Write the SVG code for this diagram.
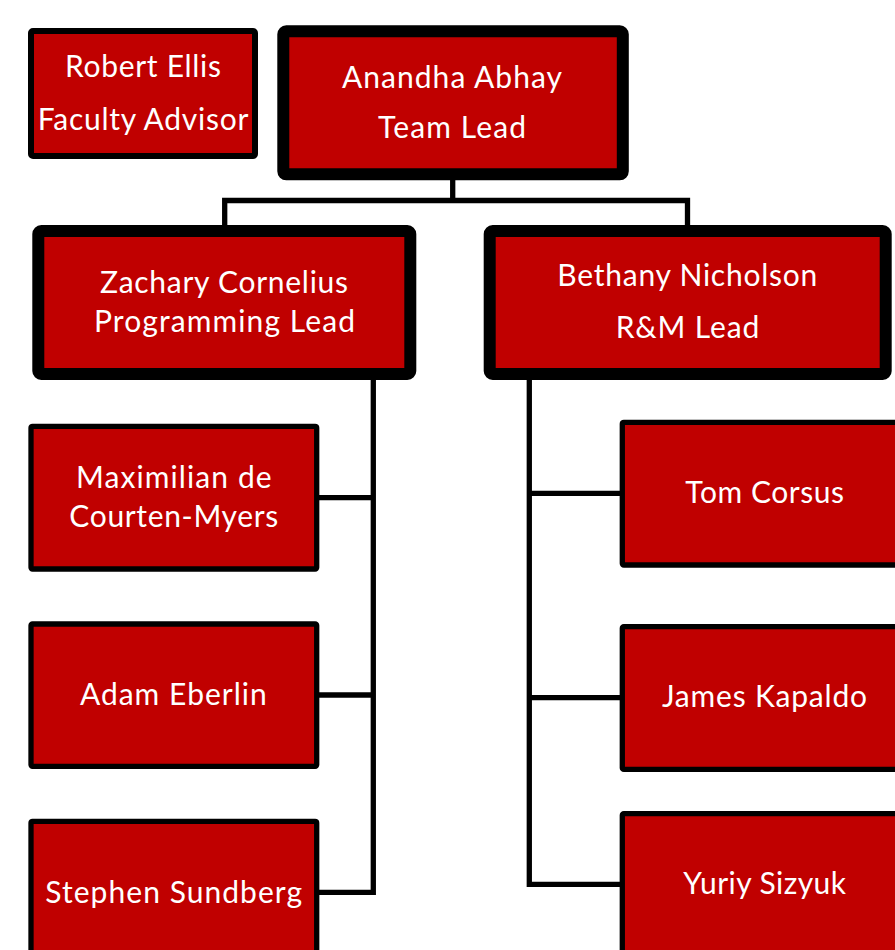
<svg xmlns="http://www.w3.org/2000/svg" width="895" height="950" viewBox="0 0 895 950">
<style>
.box{fill:#C00000;stroke:#000;stroke-linejoin:round}
.thin{stroke-width:5.3}
.mid{stroke-width:6}
.thick{stroke-width:12}
text{font-family:Lato,"Open Sans","DejaVu Sans",sans-serif;font-size:30px;fill:#fff;text-anchor:middle}
.conn{fill:none;stroke:#000;stroke-width:5.3;stroke-linejoin:miter;stroke-linecap:butt}
</style>
<rect width="895" height="950" fill="#fff"/>
<g id="connectors">
<path class="conn" d="M452.7 180 V200.5"/>
<path class="conn" d="M224.7 226 V200.5 H687.5 V226"/>
<path class="conn" d="M373.3 379 V892.3 H318"/>
<path class="conn" d="M373.3 497.7 H318"/>
<path class="conn" d="M373.3 695 H318"/>
<path class="conn" d="M529.3 379 V884.3 H621"/>
<path class="conn" d="M529.3 493.3 H621"/>
<path class="conn" d="M529.3 697.7 H621"/>
</g>
<g id="robert">
<rect class="box mid" x="31" y="31" width="224" height="125" rx="2"/>
<text x="143" y="77.3" textLength="156">Robert Ellis</text>
<text x="143" y="130" textLength="210.6">Faculty Advisor</text>
</g>
<g id="anandha">
<rect class="box thick" x="283.3" y="31.3" width="339.5" height="143" rx="3"/>
<text x="452" y="87.7" textLength="220">Anandha Abhay</text>
<text x="452" y="138.3" textLength="148">Team Lead</text>
</g>
<g id="zachary">
<rect class="box thick" x="38.3" y="231" width="372" height="143" rx="3"/>
<text x="224" y="293.3" textLength="248">Zachary Cornelius</text>
<text x="224.5" y="331.7" textLength="261">Programming Lead</text>
</g>
<g id="bethany">
<rect class="box thick" x="489.7" y="231" width="396" height="143" rx="3"/>
<text x="687.3" y="286" textLength="260">Bethany Nicholson</text>
<text x="687.5" y="338.3" textLength="143.6">R&amp;M Lead</text>
</g>
<g id="maximilian">
<rect class="box thin" x="31" y="426.3" width="285.7" height="142.7" rx="1.5"/>
<text x="173.8" y="488.3" textLength="195.7">Maximilian de</text>
<text x="173.8" y="526.7" textLength="209">Courten-Myers</text>
</g>
<g id="adam">
<rect class="box thin" x="31" y="624" width="285.7" height="142.3" rx="1.5"/>
<text x="173.3" y="705" textLength="186.7">Adam Eberlin</text>
</g>
<g id="stephen">
<rect class="box thin" x="31" y="821.3" width="285.7" height="143" rx="1.5"/>
<text x="173.7" y="902.7" textLength="256.7">Stephen Sundberg</text>
</g>
<g id="tom">
<rect class="box thin" x="622.3" y="422.3" width="285.7" height="142.7" rx="1.5"/>
<text x="764.7" y="503.3" textLength="158.7">Tom Corsus</text>
</g>
<g id="james">
<rect class="box thin" x="622.3" y="626.7" width="285.7" height="142.7" rx="1.5"/>
<text x="764.5" y="707.3" textLength="205">James Kapaldo</text>
</g>
<g id="yuriy">
<rect class="box thin" x="622.3" y="813.7" width="285.7" height="143" rx="1.5"/>
<text x="764.7" y="894.3" textLength="162.7">Yuriy Sizyuk</text>
</g>
</svg>
